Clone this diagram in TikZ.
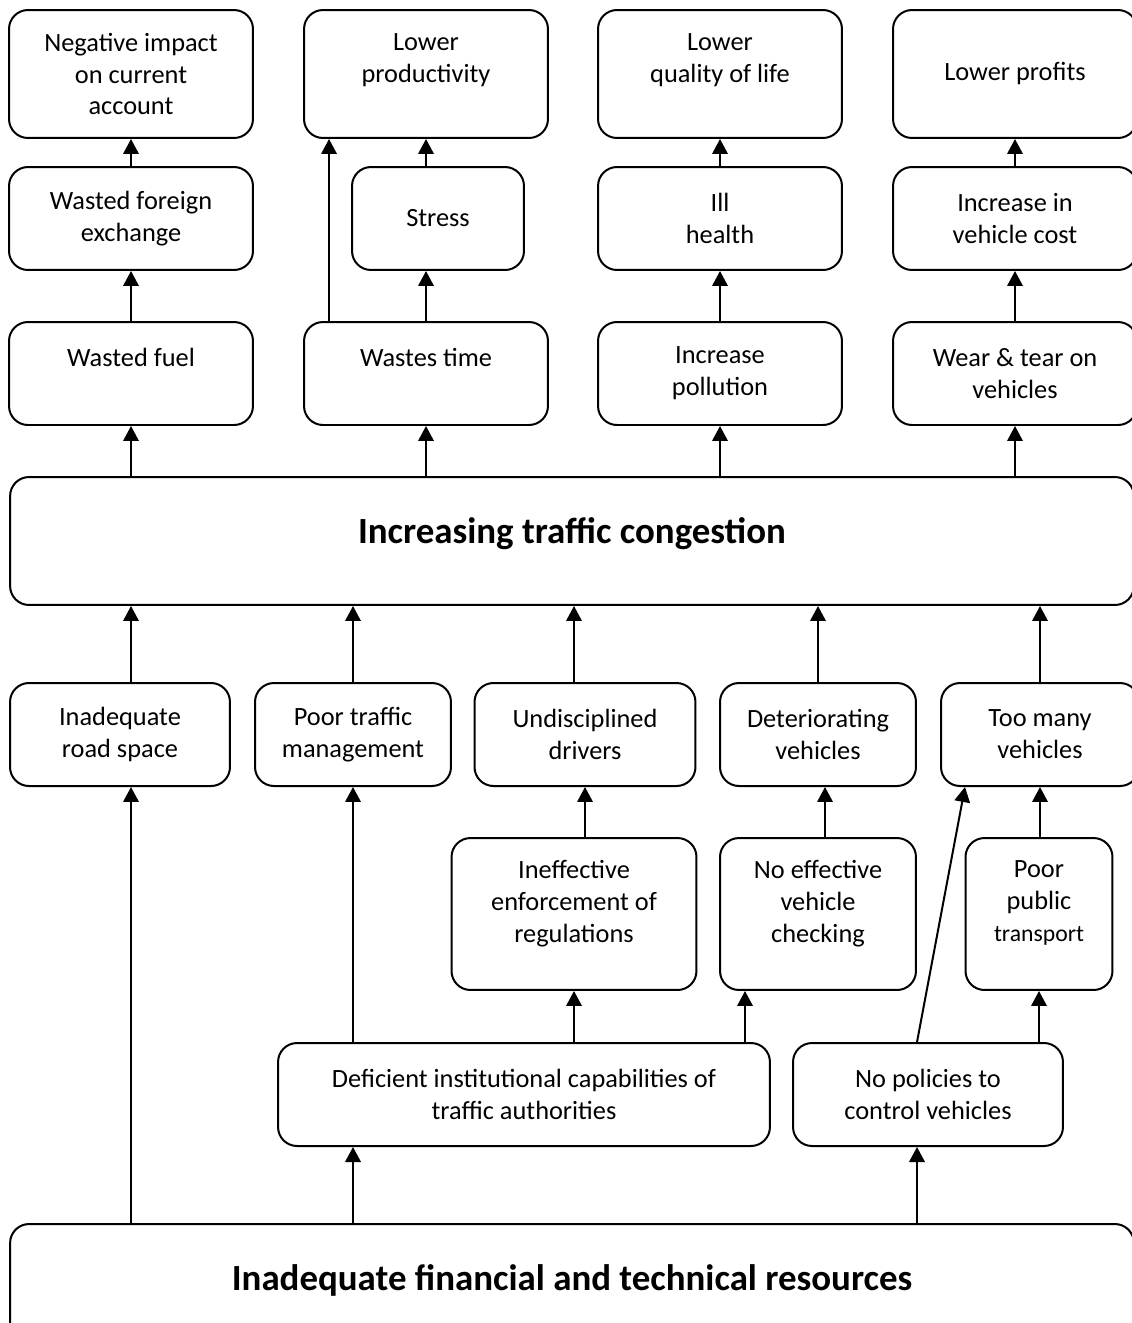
\documentclass[tikz,border=0pt]{standalone}
\usepackage{fontspec}
\setmainfont{Carlito}
\usetikzlibrary{arrows.meta,positioning}

\begin{document}
\begin{tikzpicture}[x=0.02cm, y=-0.02cm,
    box/.style={draw, line width=0.04cm, rounded corners=0.38cm, align=center, inner sep=0pt, minimum height=2.06cm, font=\fontsize{15}{18.2}\selectfont},
    wide/.style={box, minimum width=4.88cm},
    tall/.style={box, minimum height=3.04cm, text depth=0.52cm},
    big/.style={box, minimum width=22.48cm, minimum height=2.56cm, text depth=0.4cm, font=\fontsize{21}{25}\selectfont\bfseries},
    arr/.style={-{Triangle[length=0.3cm, width=0.31cm]}, line width=0.04cm}
]
\useasboundingbox (0,0) rectangle (1132,1323);
\clip (0,0) rectangle (1132,1323);

% effects
\node[wide, minimum height=2.56cm] (A1) at (131,74) {Negative impact\\on current\\account};
\node[wide, minimum height=2.56cm] (B1) at (426,74) {Lower\\productivity\\\mbox{}};
\node[wide, minimum height=2.56cm] (C1) at (720,74) {Lower\\quality of life\\\mbox{}};
\node[wide, minimum height=2.56cm] (D1) at (1015,74) {Lower profits};

\node[wide] (A2) at (131,218.5) {Wasted foreign\\exchange};
\node[box, minimum width=3.44cm] (S) at (438,218.5) {Stress};
\node[wide] (C2) at (720,218.5) {Ill\\health};
\node[wide] (D2) at (1015,218.5) {Increase in\\vehicle cost};

\node[wide] (A3) at (131,373.5) {Wasted fuel\\\mbox{}};
\node[wide] (B3) at (426,373.5) {Wastes time\\\mbox{}};
\node[wide] (C3) at (720,373.5) {Increase\\pollution};
\node[wide] (D3) at (1015,373.5) {Wear \& tear on\\vehicles};

% core problem
\node[big] (mid) at (572,541) {Increasing traffic congestion};

% causes
\node[box, minimum width=4.4cm] (E1) at (120,734.5) {Inadequate\\road space};
\node[box, minimum width=3.92cm] (E2) at (353,734.5) {Poor traffic\\management};
\node[box, minimum width=4.42cm] (E3) at (585,734.5) {Undisciplined\\drivers};
\node[box, minimum width=3.92cm] (E4) at (818,734.5) {Deteriorating\\vehicles};
\node[box, minimum width=3.96cm] (E5) at (1040,734.5) {Too many\\vehicles};

\node[tall, minimum width=4.9cm] (F1) at (574,914) {Ineffective\\enforcement of\\regulations};
\node[tall, minimum width=3.92cm] (F2) at (818,914) {No effective\\vehicle\\checking};
\node[tall, minimum width=2.94cm] (F3) at (1039,914) {Poor\\public\\{\fontsize{13.5}{18.2}\selectfont transport}};

\node[box, minimum width=9.84cm] (G1) at (524,1094.5) {Deficient institutional capabilities of\\traffic authorities};
\node[box, minimum width=5.4cm] (G2) at (928,1094.5) {No policies to\\control vehicles};

\node[big] (bot) at (572,1288) {Inadequate financial and technical resources};

% effect arrows
\draw[arr] (A2) -- (A1);
\draw[arr] (A3) -- (A2);
\draw[arr] (B1.south |- S.north) -- (B1.south);
\draw[arr] (B3.north) -- (B3.north |- S.south);
\draw[arr] ([xshift=0.52cm]B3.north west) -- ([xshift=0.52cm]B3.north west |- B1.south);
\draw[arr] (C2) -- (C1);
\draw[arr] (C3) -- (C2);
\draw[arr] (D2) -- (D1);
\draw[arr] (D3) -- (D2);
\draw[arr] (mid.north -| A3) -- (A3.south);
\draw[arr] (mid.north -| B3) -- (B3.south);
\draw[arr] (mid.north -| C3) -- (C3.south);
\draw[arr] (mid.north -| D3) -- (D3.south);

% cause arrows
\draw[arr] (E1.north -| A3) -- (mid.south -| A3);
\draw[arr] (E2.north) -- (E2.north |- mid.south);
\draw[arr] (E3.north -| F1) -- (mid.south -| F1);
\draw[arr] (E4.north) -- (E4.north |- mid.south);
\draw[arr] (E5.north) -- (E5.north |- mid.south);
\draw[arr] (F1.north -| E3) -- (E3.south);
\draw[arr] ([xshift=0.14cm]F2.north) -- ([xshift=0.14cm]E4.south);
\draw[arr] (F3.north -| E5) -- (E5.south);
\draw[arr] (G1.north -| E2) -- (E2.south);
\draw[arr] (G1.north -| F1) -- (F1.south);
\draw[arr] ([xshift=-1.46cm]F2.south |- G1.north) -- ([xshift=-1.46cm]F2.south);
\draw[arr] ([xshift=-0.22cm]G2.north) -- ([xshift=0.5cm]E5.south west);
\draw[arr] (G2.north -| F3) -- (F3.south);
\draw[arr] (bot.north -| A3) -- (E1.south -| A3);
\draw[arr] (bot.north -| E2) -- (G1.south -| E2);
\draw[arr] ([xshift=-0.22cm]G2.south |- bot.north) -- ([xshift=-0.22cm]G2.south);
\end{tikzpicture}
\end{document}
